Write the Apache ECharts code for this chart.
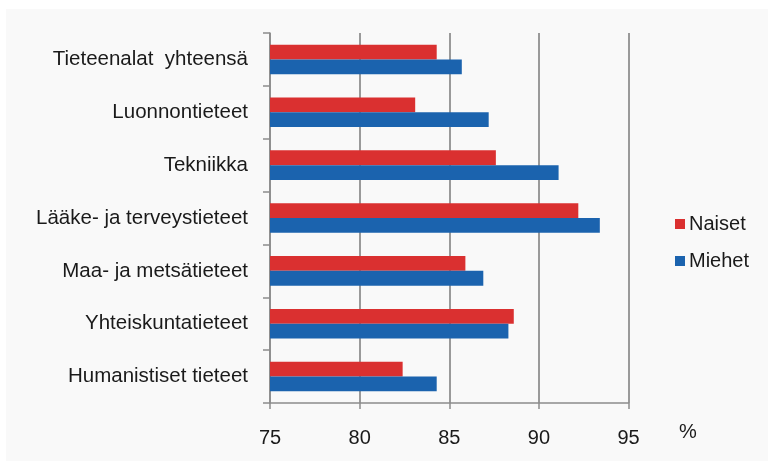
<!DOCTYPE html>
<html>
<head>
<meta charset="utf-8">
<script src="https://cdn.jsdelivr.net/npm/echarts@6/dist/echarts.min.js"></script>
<style>
html,body{margin:0;padding:0;background:#ffffff;}
#chart{width:768px;height:461px;}
</style>
</head>
<body>
<div id="chart"></div>
<script>
const categories = ['Tieteenalat  yhteensä','Luonnontieteet','Tekniikka','Lääke- ja terveystieteet','Maa- ja metsätieteet','Yhteiskuntatieteet','Humanistiset tieteet'];
const naiset = [84.3, 83.1, 87.6, 92.2, 85.9, 88.6, 82.4];
const miehet = [85.7, 87.2, 91.1, 93.4, 86.9, 88.3, 84.3];
const seriesNames = ['Naiset','Miehet'];
const unitLabel = '%';

const font = '"Liberation Sans", Arial, sans-serif';
const chart = echarts.init(document.getElementById('chart'), null, {renderer:'canvas'});
chart.setOption({
  backgroundColor: '#ffffff',
  animation: false,
  graphic: [
    {type:'rect', z:-10, silent:true, shape:{x:6,y:9,width:762,height:452}, style:{fill:'#f9f9f9'}},
    {type:'text', left:679, top:422, style:{text:unitLabel, font:'20px ' + font, fill:'#1a1a1a'}}
  ],
  legend: {
    orient:'vertical', left:670, top:209, itemWidth:10, itemHeight:10, itemGap:17,
    icon:'rect',
    textStyle:{fontFamily:font, fontSize:20, color:'#1a1a1a', padding:[0,0,0,-1]},
    data: seriesNames
  },
  grid: {left:270, right:139.5, top:33, bottom:58, containLabel:false},
  xAxis: {
    type:'value', min:75, max:95, interval:5,
    axisLine:{show:true, lineStyle:{color:'#8c8c8c', width:1.5}},
    axisTick:{show:true, length:6, lineStyle:{color:'#8c8c8c', width:1.5}},
    axisLabel:{fontFamily:font, fontSize:20, color:'#1a1a1a', margin:25},
    splitLine:{show:true, lineStyle:{color:'#9a9a9a', width:2}}
  },
  yAxis: {
    type:'category', data:categories, inverse:true,
    axisLine:{show:true, lineStyle:{color:'#8c8c8c', width:1.5}},
    axisTick:{show:true, length:7, lineStyle:{color:'#8c8c8c', width:1.5}},
    axisLabel:{fontFamily:font, fontSize:20.5, color:'#1a1a1a', margin:22}
  },
  series: [
    {name:seriesNames[0], type:'bar', data:naiset, barGap:'0%', barCategoryGap:'44%', itemStyle:{color:'#da3030'}},
    {name:seriesNames[1], type:'bar', data:miehet, barGap:'0%', barCategoryGap:'44%', itemStyle:{color:'#1b63ae'}}
  ]
});
</script>
</body>
</html>
